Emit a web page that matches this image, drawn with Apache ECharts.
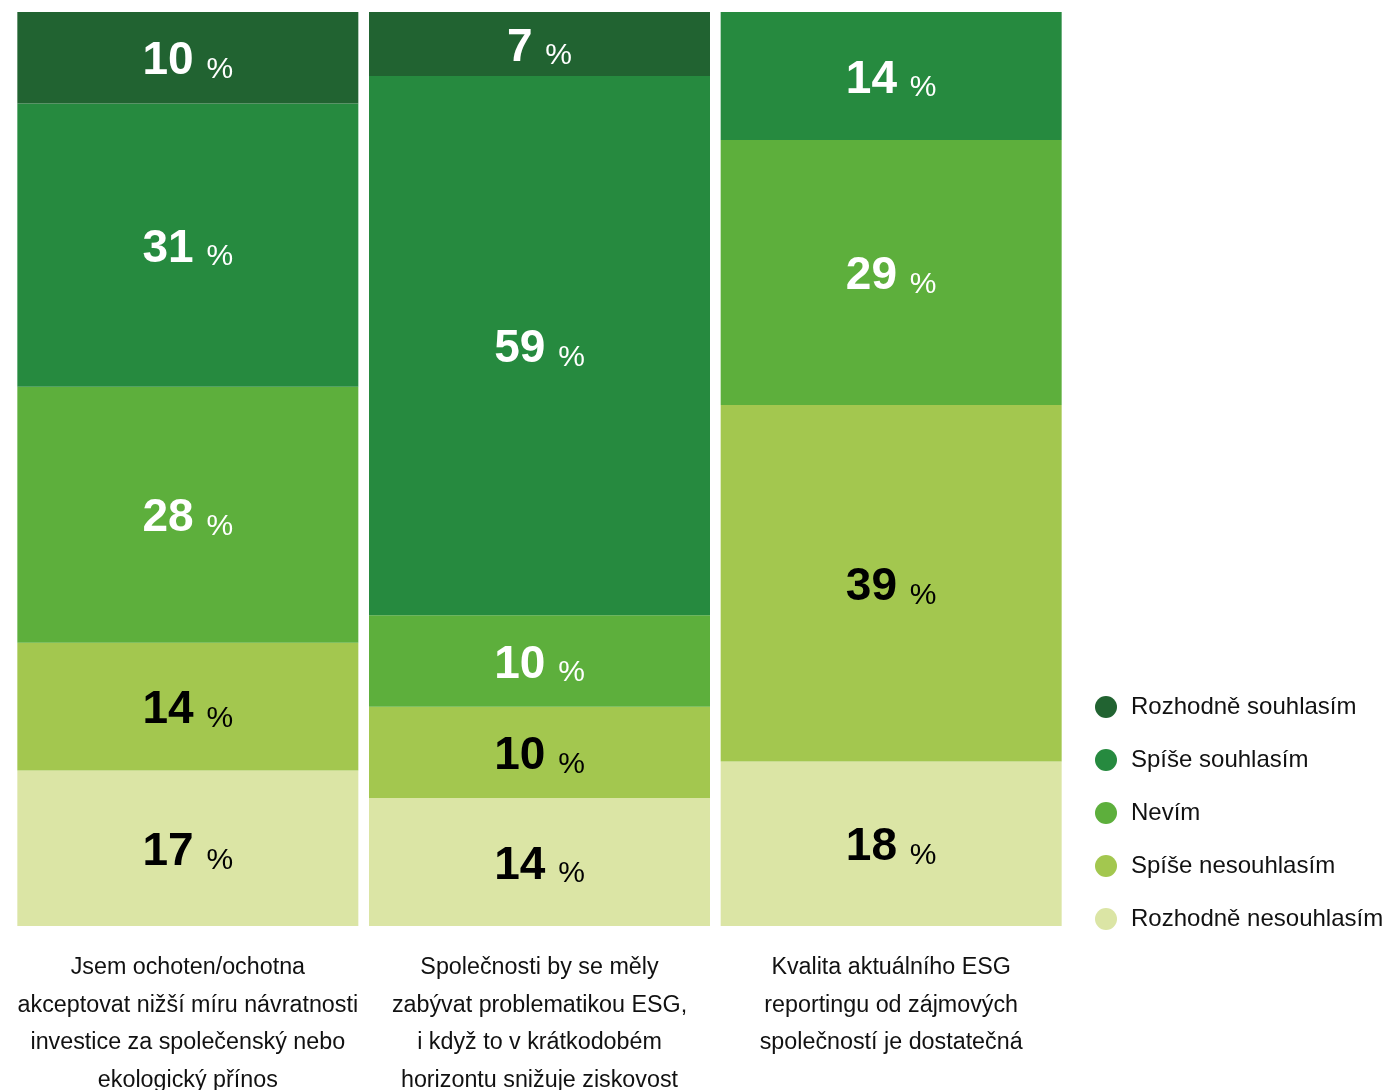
<!DOCTYPE html>
<html>
<head>
<meta charset="utf-8">
<title>ESG postoje</title>
<script src="https://cdn.jsdelivr.net/npm/echarts@6/dist/echarts.min.js"></script>
<style>
  html, body { margin: 0; padding: 0; background: #ffffff; overflow: hidden; }
  #chart { width: 1386px; height: 1090px; }
</style>
</head>
<body>
<div id="chart"></div>
<script>
// Statements (x-axis categories)
const categories = [
  'Jsem ochoten/ochotna\nakceptovat nižší míru návratnosti\ninvestice za společenský nebo\nekologický přínos',
  'Společnosti by se měly\nzabývat problematikou ESG,\ni když to v krátkodobém\nhorizontu snižuje ziskovost',
  'Kvalita aktuálního ESG\nreportingu od zájmových\nspolečností je dostatečná'
];

// Answer shares in %, one array per answer (bottom of the stack first)
const rozhodneNesouhlasim = [17, 14, 18];
const spiseNesouhlasim    = [14, 10, 39];
const nevim               = [28, 10, 29];
const spiseSouhlasim      = [31, 59, 14];
const rozhodneSouhlasim   = [10, 7, 0];

const answerNames = [
  'Rozhodně nesouhlasím',
  'Spíše nesouhlasím',
  'Nevím',
  'Spíše souhlasím',
  'Rozhodně souhlasím'
];
const answerValues = [rozhodneNesouhlasim, spiseNesouhlasim, nevim, spiseSouhlasim, rozhodneSouhlasim];
const answerColors = ['#dbe5a5', '#a3c74f', '#5daf3c', '#268a3f', '#216331'];
const labelColors  = ['#000000', '#000000', '#ffffff', '#ffffff', '#ffffff'];

const FONT = '"Liberation Sans", Arial, Helvetica, sans-serif';

const series = answerNames.map((name, i) => ({
  name: name,
  type: 'bar',
  stack: 'total',
  barWidth: 341,
  data: answerValues[i],
  itemStyle: { color: answerColors[i] },
  emphasis: { disabled: true },
  label: {
    show: true,
    position: 'inside',
    offset: [0, 4],
    fontFamily: FONT,
    color: labelColors[i],
    // value in bold, followed by a smaller "%" on the same baseline
    formatter: p => (p.value ? '{n|' + p.value + ' }{p|%}' : ''),
    rich: {
      n: { fontFamily: FONT, fontSize: 46, fontWeight: 'bold', color: labelColors[i], lineHeight: 46, verticalAlign: 'bottom' },
      p: { fontFamily: FONT, fontSize: 30, color: labelColors[i], lineHeight: 36, verticalAlign: 'bottom' }
    }
  }
}));

const chart = echarts.init(document.getElementById('chart'), null, { renderer: 'canvas', width: 1386, height: 1090 });
chart.setOption({
  animation: false,
  backgroundColor: '#ffffff',
  grid: { left: 12, top: 12, width: 1055, height: 914, containLabel: false, outerBoundsMode: 'none' },
  xAxis: {
    type: 'category',
    data: categories,
    axisLine: { show: false },
    axisTick: { show: false },
    axisLabel: {
      interval: 0,
      margin: 23,
      fontFamily: FONT,
      fontSize: 23.3,
      lineHeight: 37.5,
      color: '#111111',
      align: 'center'
    }
  },
  yAxis: {
    type: 'value',
    min: 0,
    max: 100,
    show: false
  },
  legend: {
    orient: 'vertical',
    left: 1095,
    top: 695,
    padding: 0,
    icon: 'circle',
    itemWidth: 22,
    itemHeight: 22,
    itemGap: 29,
    selectedMode: false,
    data: answerNames.slice().reverse(),
    textStyle: { fontFamily: FONT, fontSize: 24, lineHeight: 22, color: '#111111', padding: [0, 0, 0, 9] }
  },
  series: series
});
</script>
</body>
</html>
